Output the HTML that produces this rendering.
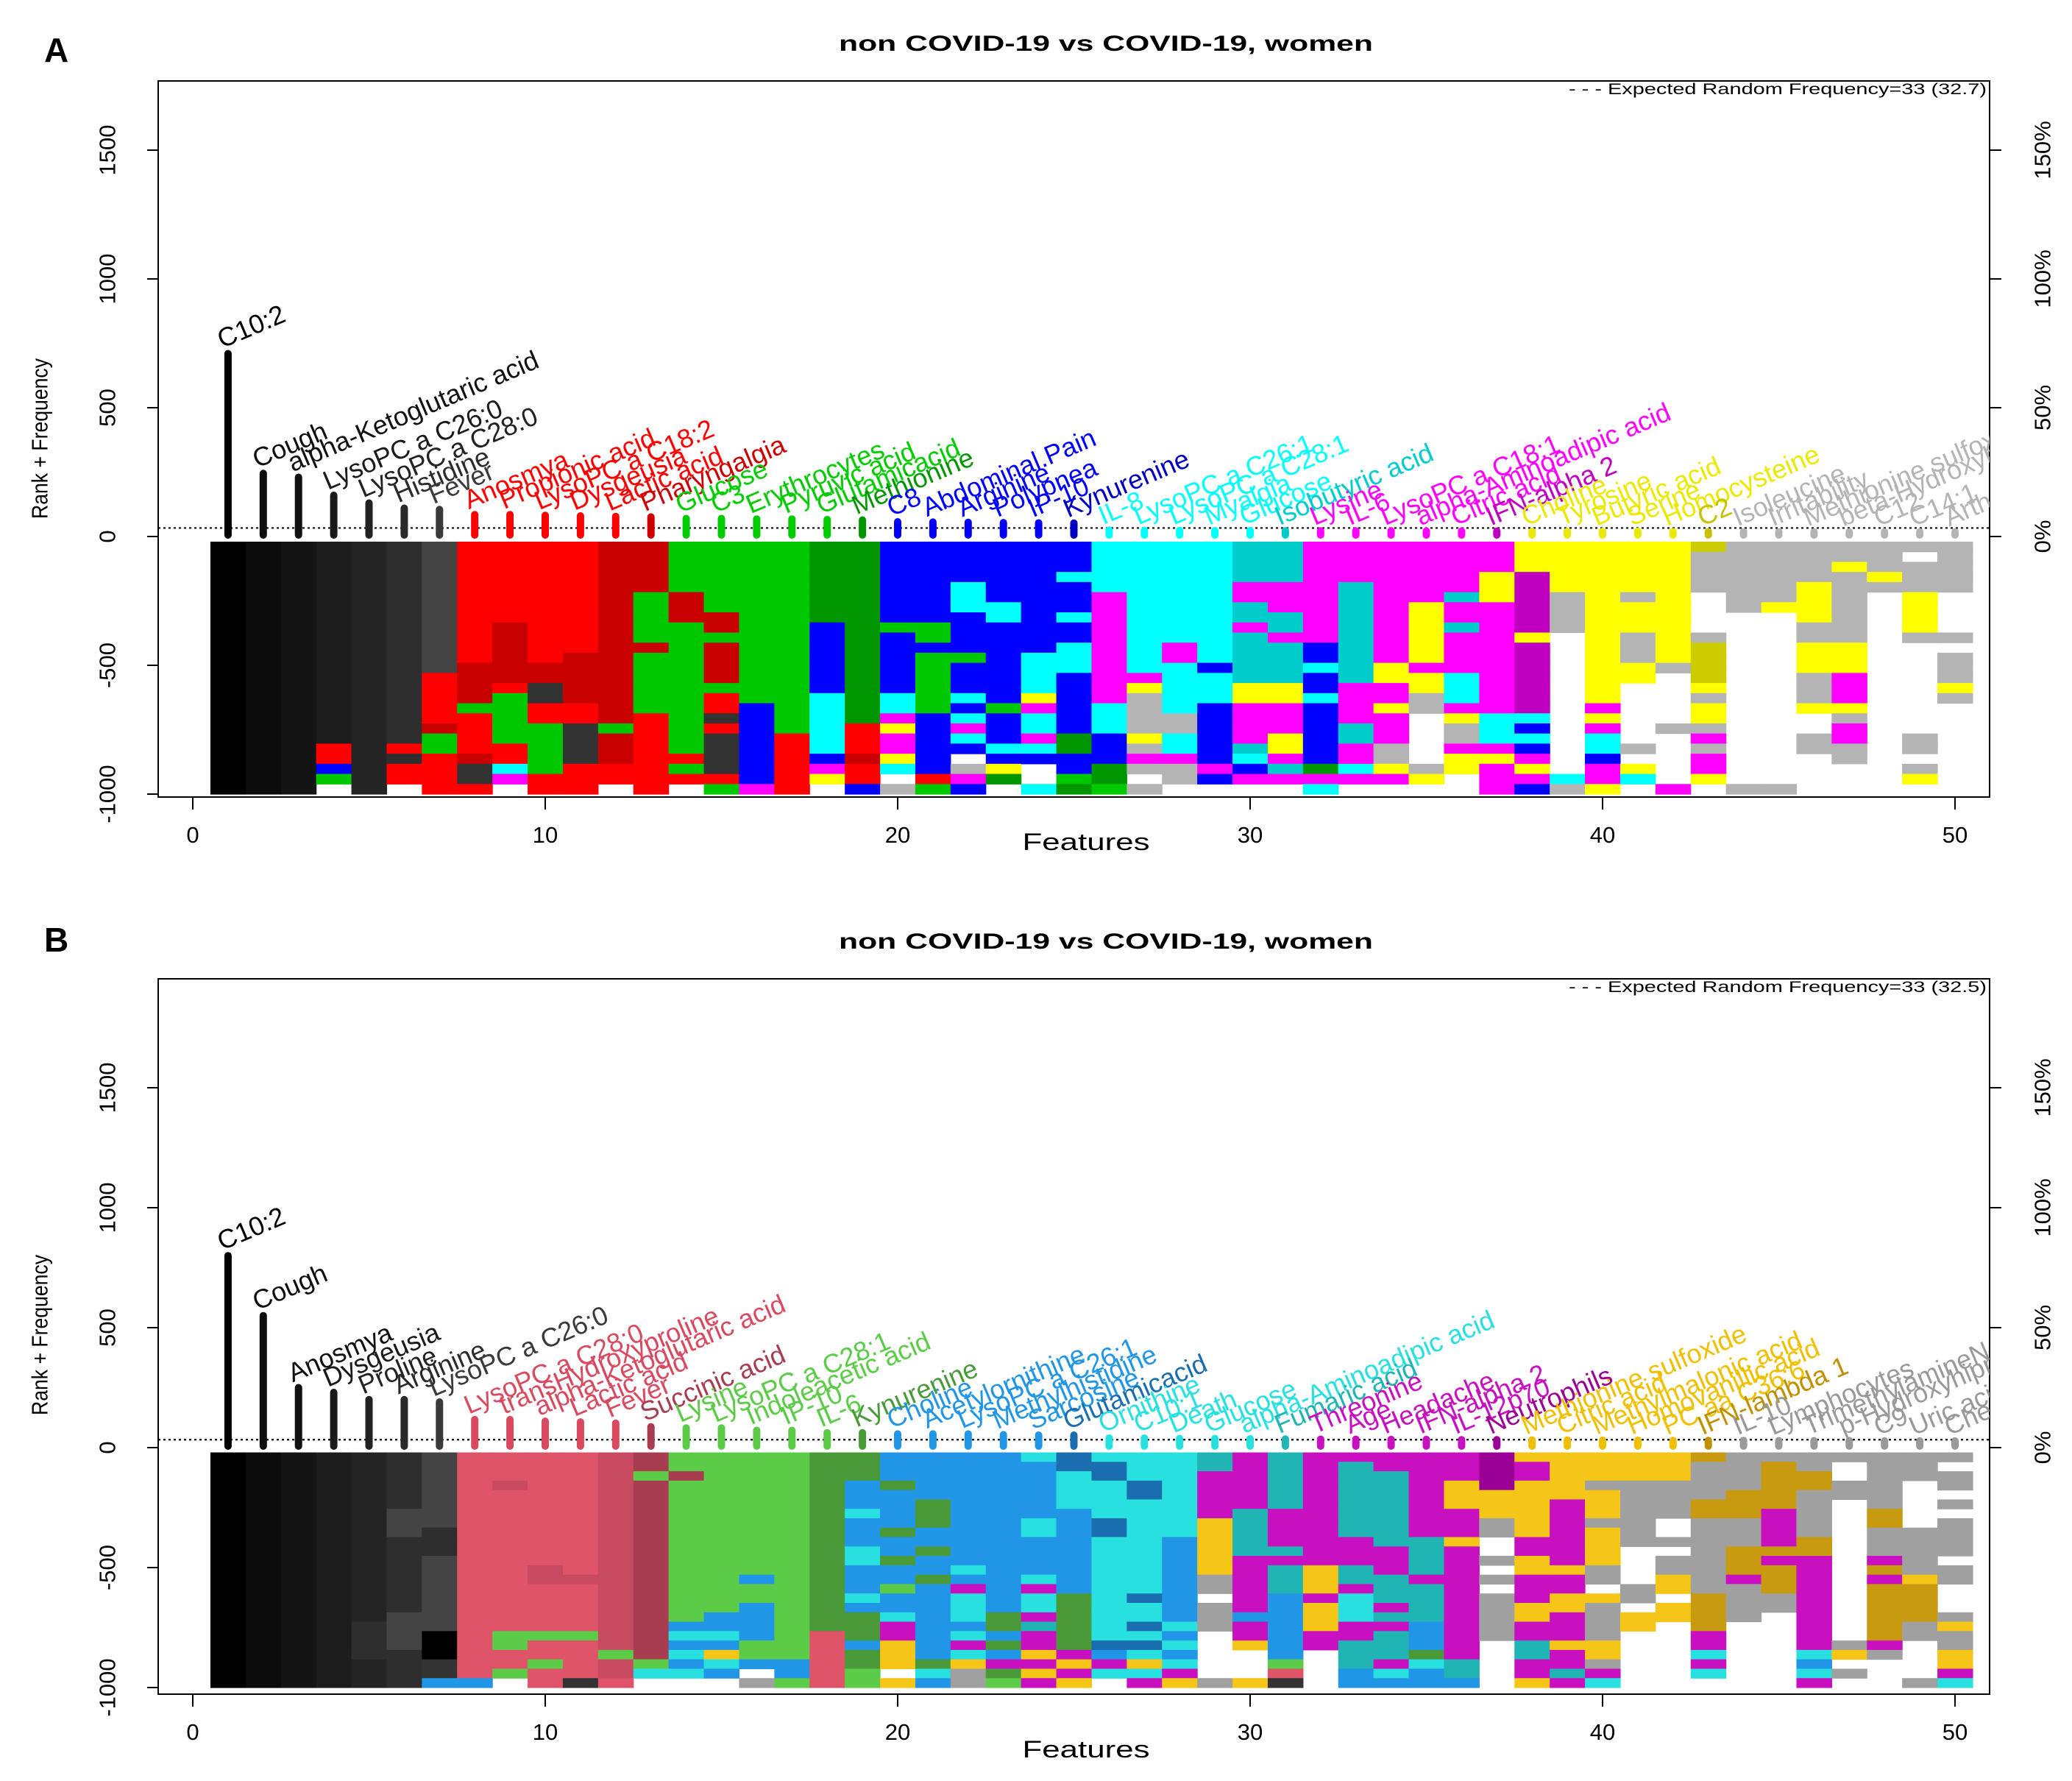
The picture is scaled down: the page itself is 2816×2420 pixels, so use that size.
<!DOCTYPE html>
<html><head><meta charset="utf-8"><title>Rank + Frequency feature charts</title>
<style>
html,body{margin:0;padding:0;background:#fff;}
svg{display:block;font-family:"Liberation Sans",Arial,sans-serif;}
</style></head>
<body>
<svg id="fig" width="2816" height="2420" viewBox="0 0 2816 2420" xmlns="http://www.w3.org/2000/svg">
<rect x="0" y="0" width="2816" height="2420" fill="#fff"/>
</svg>
<script>
// ---------------- data ----------------
const features = Array.from({length:50},(_, i)=>i+1);
const xTicks = [0,10,20,30,40,50];
const yTicks = [-1000,-500,0,500,1000,1500];
const pctTicks = [0,50,100,150];
const expectedA = 33;
const expectedB = 33;
const legendA = "- - - Expected Random Frequency=33 (32.7)";
const legendB = "- - - Expected Random Frequency=33 (32.5)";

const labelsA = ["C10:2","Cough","alpha-Ketoglutaric acid","LysoPC a C26:0","LysoPC a C28:0","Histidine","Fever",
"Anosmya","Propionic acid","LysoPC a C18:2","Dysgeusia","Lactic acid","Pharyngalgia",
"Glucose","C3","Erythrocytes","Pyruvic acid","Glutamicacid","Methionine",
"C8","Abdominal.Pain","Arginine","Polypnea","IP-10","Kynurenine",
"IL-8","LysoPC a C26:1","LysoPC a C28:1","Myalgia","Glucose","Isobutyric acid",
"Lysine","IL-6","LysoPC a C18:1","alpha-Aminoadipic acid","Citric acid","IFN-alpha 2",
"Choline","Tyrosine","Butyric acid","Serine","Homocysteine","C2",
"Isoleucine","Irritability","Methionine sulfoxide","beta-Hydroxybutyric acid","C12","C14:1","Arthralgia"];
const heightsA = [710,245,230,160,130,110,105,85,85,82,80,78,76,70,70,68,68,66,64,57,56,55,54,53,52,
25,24,24,23,23,22,22,22,22,21,21,21,20,20,20,20,19,19,19,18,18,18,18,18,18];

const labelsB = ["C10:2","Cough","Anosmya","Dysgeusia","Proline","Arginine","LysoPC a C26:0",
"LysoPC a C28:0","transHydroxyproline","alpha-Ketoglutaric acid","Lactic acid","Fever","Succinic acid",
"Lysine","LysoPC a C28:1","Indoleacetic acid","IP-10","IL-6","Kynurenine",
"Choline","Acetylornithine","LysoPC a C26:1","Methylhistidine","Sarcosine","Glutamicacid",
"Ornithine","C10:1","Death","Glucose","alpha-Aminoadipic acid","Fumaric acid",
"Threonine","Age","Headache","IFN-alpha 2","IL-12p70","Neutrophils",
"Methionine sulfoxide","Citric acid","Methylmalonic acid","Homovanillic acid","PC aa C36:6","IFN-lambda 1",
"IL-10","Lymphocytes","TrimethylamineN-oxide","p-Hydroxyhippuric acid","C9","Uric acid","Chenodeoxycholic acid"];
const heightsB = [800,550,250,230,200,200,190,117,117,110,107,102,87,82,82,72,72,62,62,57,57,57,54,52,52,
40,40,38,38,37,36,35,35,34,34,33,33,32,32,31,31,30,30,30,29,29,29,28,28,28];

const heatA = ["0000000000000000000000000","1111111111111111111111111","2222222222222222222222222",
"33333333333333333333rrbgw","4444444444444444444444444","55555555555555555555r5rrw","6666666666666rrrrrRggrrrr",
"rrrrrrrrrrrrRRRRgrrrrRDDr","rrrrrrrrRRRRRRrgggggrrcmw","rrrrrrrrrrrrRRDDrrgggggrr","rrrrrrrrrrrRRRRRrrDDDDrrr",
"RRRRRRRRRRRRRRRRRRgRRRrrw","RRRRRgggggRggggggrrrrrrrr",
"gggggRRRgggggggggggggrgrw","gggggggRRgRRRRgrrDrDDDDrg","ggggggggggggggggbbbbbbbbm","gggggggggggggggggggrrrrrr",
"GGGGGGGGbbbbbbbccccccbmyw","GGGGGGGGGGGGGGGGGGrrrRrrb",
"bbbbbbbbgbbbbbbccmymmycws","bbbbbbbbggbggggggbbbbbbrg","bbbbcccbbbbgbbbcbcmcbwsmb","bbbbbbccbbbbbbbbgbbbcbyGw",
"bbbbbbbbbbbccccymccmcbwwc","bbbcbbbcbbcccbbbbbbGGbbgG",
"cccccmmmmmmmmmmmcccbbbGGg","cccccccccccccmyssssysmsws","ccccccccccmmcccccssccmssw","ccccccccccccbcccbbbbbbmbw",
"CCCCmmCCmCCCCCyymmmmCcbmw","CCCCmmmCCmCCCCyymmmyymCmw",
"mmmmmmmmmmbbcbbcbbbbbbGmc","mmmmCCCCCCCCCCmmmmCCmmcmw","mmmmmmmmmmmmyymmymmmssymw","mmmmmmyyyyyymyysswwwwwsyw",
"mmmmmCmmCmmmmcccmyssmyyww","mmmyyymmmmmmmmmmmcccmymmm",
"yyyMMMMMMyMMMMMMMcbcbmymb","yyyyysssswwwwwwwwwwwwwwcs","yyyyyyyyyyyyyyyymymccbmmy","yyyyysyyysssyywwwwwwswycw",
"yyyyyyyyyyyyswwwwwswwwwwm","YsssswwwwsYYYYysyysmsmmyw",
"ssssssswwwwwwwwwwwwwwwwws","ssssssywwwwwwwwwwwwwwwwws","ssssyyyyssyyysssywwsswwww","ssysssssssyyymmmysmmsswww",
"sssyswwwwwwwwwwwwwwwwwwww","swsssyyyyswwwwwwwwwsswsyw","ssssswwwwswsssyswwwwwwwww"];

const heatB = ["0000000000000000000000000","1111111111111111111111111","2222222222222222222222222",
"3333333333333333333333333","4444444444444444445555444","5555556665555555566665555","6666666655566666666000DDb",
"rrrrrrrrrrrrrrrrrrrrrrrrb","rrrqrrrrrrrrrrrrrrrggrrgw","rrrrrrrrrrrrqqrrrrrgrrgrr","rrrrrrrrrrrrrqrrrrrgrrrrD",
"qqqqqqqqqqqqqqqqqqqqqgqqr","RRgRRRRRRRRRRRRRRRRRRRgcw",
"ggRgggggggggggggggbcbcbcw","gggggggggggggggggbbcbycbw","gggggggggggggbggbbbbggbws","ggggggggggggggggggggggbbg",
"GGGGGGGGGGGGGGGGGGGrrrrrr","GGGbbbcbbbccbbbcbGGGbGGgg",
"bbbGbbbbGbbGbbgbbcmmyyywy","bbbbbGGGbbGbbGbbbbbbbbGcb","bbbbbbbbbbbbcbmcccbcmcyss","bbbbbbbbbbbbbbbbbGGbGbmGg",
"cbbbbbbccbbbbcmccmCmmymym","BBccccbbbbbbbbbGGGGGGmymy",
"cBBccccBBcccccccccccBbmcw","cccBBccccccccccBccBcBcycm","cccccccccbbbbbbbbbcbcbcmy","CCmmmmmyyyyyysswssswwwwws",
"mmmmmmCCCCCmmmmmmbmmywwwy","CCCCCCmmmmCmCCCbbbbbbbgrD",
"mmmmmmmmmmmmyyymyyymmwwww","mCCCCCCCCmmmCCmcccmmCCCbb","mmCCCCCCCCmmmCCCmCmCCCmcb","mmmmmmmmmCCCCmCCCCbbbGcbb",
"mmmyyymmmymmmmmmmmmmmmCCb","MMMMyyysswwswswssssswwwww",
"ymmyyyyyymmyymmmyymmCCmmy","yyyyymmmmmmmymmyymmmymmCm","yyysyyysyyyysswyssssyysmc","yyyssssssswwwwsswyywwwwww",
"yyysssswwswssyywyywwwwwww","YssssYYssssssssYYYYmmcmcw",
"ssssYYYsssYYYmsssswwwwwww","sYYYYYmmmmYmYYYsswwwwwwww","ssYYsssssYYmmmmmmmmmmcbcm","swwsswwwwwwwwwwwwwwwsywsw",
"ssssssYYsssmYmYYYYYYmswww","ssswwwwwsssssyYYYYsswwwws","swsswswsssswsswwwsyssyymc"];

// ---------------- styles ----------------
const palA = {"0":"#000","1":"#0b0b0b","2":"#141414","3":"#1c1c1c","4":"#242424","5":"#2e2e2e","6":"#444","D":"#333",
 r:"#ff0000",q:"#e80000",R:"#c80000",g:"#00c800",G:"#009600",b:"#0000ff",B:"#0000c0",c:"#00ffff",C:"#00cccc",
 m:"#ff00ff",M:"#c000c0",y:"#ffff00",Y:"#cccc00",s:"#b4b4b4",S:"#8c8c8c",w:"#ffffff"};
const palB = {"0":"#000","1":"#0b0b0b","2":"#141414","3":"#1c1c1c","4":"#242424","5":"#2e2e2e","6":"#444","D":"#333",
 r:"#df5468",q:"#c84a60",R:"#a83c50",g:"#5ccc48",G:"#4a9a3a",b:"#2196e6",B:"#1a6eb0",c:"#29e0e0",C:"#20b4b4",
 m:"#c810c0",M:"#9a0096",y:"#f5c518",Y:"#c89a10",s:"#a0a0a0",S:"#777",w:"#ffffff"};
const greys = ["#000","#0e0e0e","#111","#1a1a1a","#222","#2a2a2a","#3a3a3a"];
function groupColorsA(i){ if(i<7) return greys[i];
 const g=Math.floor((i-7)/6), last=((i-7)%6)===5;
 return [["#ff0000","#cc0000"],["#00cc00","#009600"],["#0000ff","#0000c0"],["#00ffff","#00cccc"],["#ff00ff","#c000c0"],["#eaea00","#c8c000"],["#b4b4b4","#999"]][Math.min(g,6)][(g<6&&last)?1:0];}
function groupColorsB(i){ if(i<7) return greys[i];
 const g=Math.floor((i-7)/6), last=((i-7)%6)===5;
 return [["#d94a60","#a83c50"],["#5ccc48","#4a9a3a"],["#2196e6","#1a6eb0"],["#29e0e0","#20b4b4"],["#c810c0","#9a0096"],["#f0c000","#c09000"],["#999","#888"]][Math.min(g,6)][(g<6&&last)?1:0];}

const svg = document.getElementById('fig');
const NS = "http://www.w3.org/2000/svg";
function el(tag, attrs, parent){ const e=document.createElementNS(NS,tag); for(const k in attrs) e.setAttribute(k,attrs[k]); (parent||svg).appendChild(e); return e; }
const X = v => 262 + v*47.9;
function pad(s){ return s.slice(0,25).padEnd(25, s[s.length-1]); }

function panel(P){
  const Y = v => P.y0 - v*P.k;
  const g = el('g',{});
  
  
  const L = el('text',{x:60,y:P.letterY,'font-size':46,'font-weight':'bold',fill:'#000'},g); L.textContent=P.letter;
   
  const T = el('text',{x:1503,y:P.titleY,'font-size':30,'font-weight':'bold','text-anchor':'middle',textLength:726,lengthAdjust:'spacingAndGlyphs'},g);
  T.textContent="non COVID-19 vs COVID-19, women";
   
  const hm = el('g',{},g);
   
  const rows=25, top=-20, rowU=(1000+top)/rows;
  P.heat.forEach((col,ci)=>{
    const s=pad(col), i=features[ci];
    for(let r=0;r<rows;r++){
      const v0=top - r*rowU, v1=top-(r+1)*rowU;
      const c=P.pal[s[r]]||'#fff';
      if(c==='#ffffff') continue;
      const rc=el('rect',{x:X(i-0.5),y:Y(v0),width:48.5,height:Y(v1)-Y(v0)+0.6,fill:c},hm);
      
      
    }
  });
  const bx=el('rect',{x:215,y:P.boxTop,width:2489,height:P.boxBottom-P.boxTop,fill:'none',stroke:'#000','stroke-width':2},g);
   
  const dl=el('line',{x1:215,x2:2704,y1:Y(P.expected),y2:Y(P.expected),stroke:'#000','stroke-width':2.2,'stroke-dasharray':'3 4'},g);
   
  const lg=el('text',{x:2700,y:P.boxTop+18,'font-size':21,'text-anchor':'end',textLength:568,lengthAdjust:'spacingAndGlyphs'},g);
  lg.textContent=P.legend;
   
  const clipId='clip'+P.id;
  const cp=el('clipPath',{id:clipId},g); el('rect',{x:215,y:P.boxTop,width:2489,height:P.boxBottom-P.boxTop},cp);
  const lab=el('g',{'clip-path':'url(#'+clipId+')'},g);
  features.forEach((i,ci)=>{
    const col=P.colFn(ci);
    const ln=el('line',{x1:X(i),x2:X(i),y1:Y(0)-2,y2:Y(P.heights[ci]),stroke:col,'stroke-width':10,'stroke-linecap':'round'},lab);
    
    
    const tx=X(i)-8, ty=Y(P.heights[ci])-7;
    const t=el('text',{x:tx,y:ty,'font-size':36,fill:col,transform:'rotate(-23 '+tx+' '+ty+')'},lab);
    t.textContent=P.labels[ci];
    
    
  });
  yTicks.forEach(v=>{
    const tk=el('line',{x1:200,x2:215,y1:Y(v),y2:Y(v),stroke:'#000','stroke-width':2},g);
     
    const t=el('text',{x:146,y:Y(v),'font-size':31,'text-anchor':'middle','dominant-baseline':'central',transform:'rotate(-90 146 '+Y(v)+')'},g);
    t.textContent=String(v);
     
  });
  pctTicks.forEach(p=>{
    const v=p*10;
    const tk=el('line',{x1:2704,x2:2720,y1:Y(v),y2:Y(v),stroke:'#000','stroke-width':2},g);
     
    const t=el('text',{x:2776,y:Y(v),'font-size':31,'text-anchor':'middle','dominant-baseline':'central',transform:'rotate(-90 2776 '+Y(v)+')'},g);
    t.textContent=p+'%';
     
  });
  const yt=el('text',{x:54,y:P.yTitleY,'font-size':31,'text-anchor':'middle','dominant-baseline':'central',transform:'rotate(-90 54 '+P.yTitleY+')',textLength:218,lengthAdjust:'spacingAndGlyphs'},g);
  yt.textContent='Rank + Frequency';
   
  const ax=el('line',{x1:X(0),x2:X(50),y1:P.boxBottom,y2:P.boxBottom,stroke:'#000','stroke-width':2},g);
   
  xTicks.forEach(v=>{
    const tk=el('line',{x1:X(v),x2:X(v),y1:P.boxBottom,y2:P.boxBottom+17,stroke:'#000','stroke-width':2},g);
     
    const t=el('text',{x:X(v),y:P.xLabY,'font-size':31,'text-anchor':'middle'},g);
    t.textContent=String(v);
     
  });
  const xt=el('text',{x:1476,y:P.xTitleY,'font-size':32,'text-anchor':'middle',textLength:173,lengthAdjust:'spacingAndGlyphs'},g);
  xt.textContent='Features';
   
}

panel({id:'a',letter:'A',letterY:84,titleY:69,y0:729,k:0.350,boxTop:110,boxBottom:1083,expected:expectedA,
  legend:legendA,heat:heatA,pal:palA,heights:heightsA,labels:labelsA,colFn:groupColorsA,yTitleY:596,xLabY:1145,xTitleY:1155});
panel({id:'b',letter:'B',letterY:1293,titleY:1289,y0:1967,k:0.326,boxTop:1330,boxBottom:2302,expected:expectedB,
  legend:legendB,heat:heatB,pal:palB,heights:heightsB,labels:labelsB,colFn:groupColorsB,yTitleY:1814,xLabY:2364,xTitleY:2388});
</script>
</body></html>
